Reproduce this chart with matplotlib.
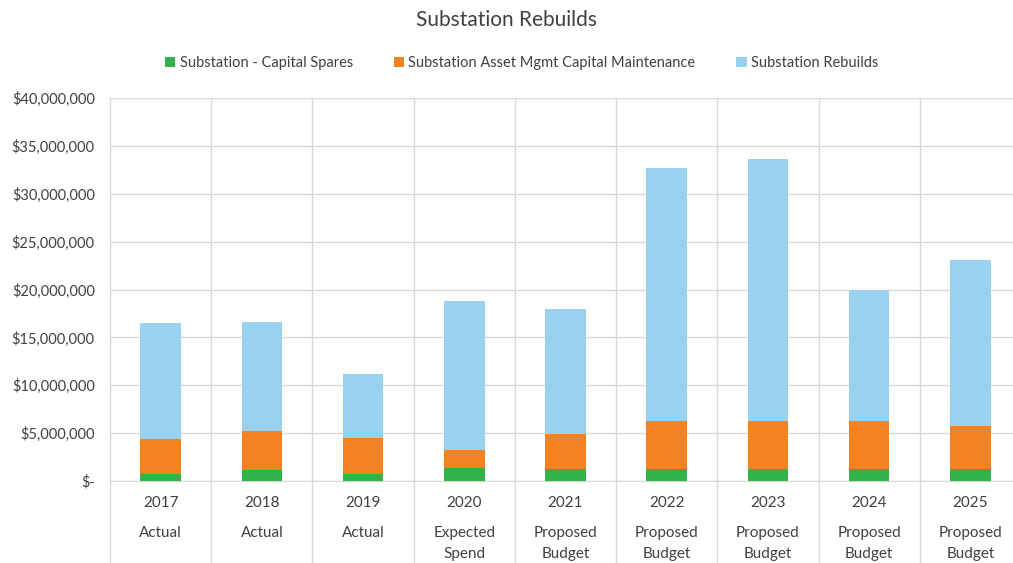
import matplotlib.pyplot as plt
import matplotlib.transforms as mtransforms
import numpy as np

plt.rcParams['font.family'] = ['Lato', 'DejaVu Sans']

years = ['2017', '2018', '2019', '2020', '2021', '2022', '2023', '2024', '2025']
status = ['Actual', 'Actual', 'Actual', 'Expected\nSpend', 'Proposed\nBudget', 'Proposed\nBudget',
          'Proposed\nBudget', 'Proposed\nBudget', 'Proposed\nBudget']

# values in $
spares = [730000, 1100000, 730000, 1320000, 1220000, 1220000, 1220000, 1220000, 1220000]
maintenance = [3620000, 4150000, 3770000, 1920000, 3660000, 5050000, 5050000, 5050000, 4560000]
rebuilds = [12120000, 11320000, 6640000, 15560000, 13080000, 26430000, 27360000, 13680000, 17320000]

GREEN = '#2fb34a'
ORANGE = '#f58220'
BLUE = '#99d1ef'
GRID = '#d9d9d9'
TXT = '#404040'

fig = plt.figure(figsize=(10.13, 5.63), dpi=100)
ax = fig.add_axes([110 / 1013, 82 / 563, 911 / 1013, 383 / 563])

x = np.arange(len(years))
w = 0.4
bottom2 = np.array(spares)
bottom3 = bottom2 + np.array(maintenance)
ax.bar(x, spares, w, color=GREEN, label='Substation - Capital Spares', zorder=3)
ax.bar(x, maintenance, w, bottom=bottom2, color=ORANGE,
       label='Substation Asset Mgmt Capital Maintenance', zorder=3)
ax.bar(x, rebuilds, w, bottom=bottom3, color=BLUE, label='Substation Rebuilds', zorder=3)

ax.set_xlim(-0.5, len(years) - 0.5)
ax.set_ylim(0, 40000000)
yt = np.arange(0, 40000001, 5000000)
ax.set_yticks(yt)
ax.set_yticklabels(['$-'] + [f'${v:,.0f}' for v in yt[1:]], fontsize=10.5, color=TXT)
ax.yaxis.grid(True, color=GRID, linewidth=1, zorder=0)
ax.tick_params(axis='y', length=0, pad=11)

# category dividers, extending down through the label area
trans = mtransforms.blended_transform_factory(ax.transData, ax.transAxes)
for b in np.arange(-0.5, len(years), 1.0):
    ax.plot([b, b], [-0.215, 1], color=GRID, linewidth=1, transform=trans, clip_on=False, zorder=1)

ax.set_xticks(x)
ax.set_xticklabels(years, fontsize=11, color=TXT)
ax.tick_params(axis='x', length=0, pad=11)
for i, s in enumerate(status):
    ax.text(x[i], -0.118, s, transform=trans, ha='center', va='top', fontsize=11,
            color=TXT, linespacing=1.6)

for sp in ['top', 'right', 'left']:
    ax.spines[sp].set_visible(False)
ax.spines['bottom'].set_color(GRID)

fig.text(0.5, 1 - 20 / 563, 'Substation Rebuilds', ha='center', va='center', fontsize=15, color=TXT)
fig.legend(loc='center', bbox_to_anchor=(0.515, 1 - 63 / 563), ncol=3, frameon=False,
           fontsize=10.5, handlelength=0.7, handleheight=0.7, handletextpad=0.3,
           columnspacing=2.8, labelcolor=TXT)

fig.savefig('out.png', dpi=100)
